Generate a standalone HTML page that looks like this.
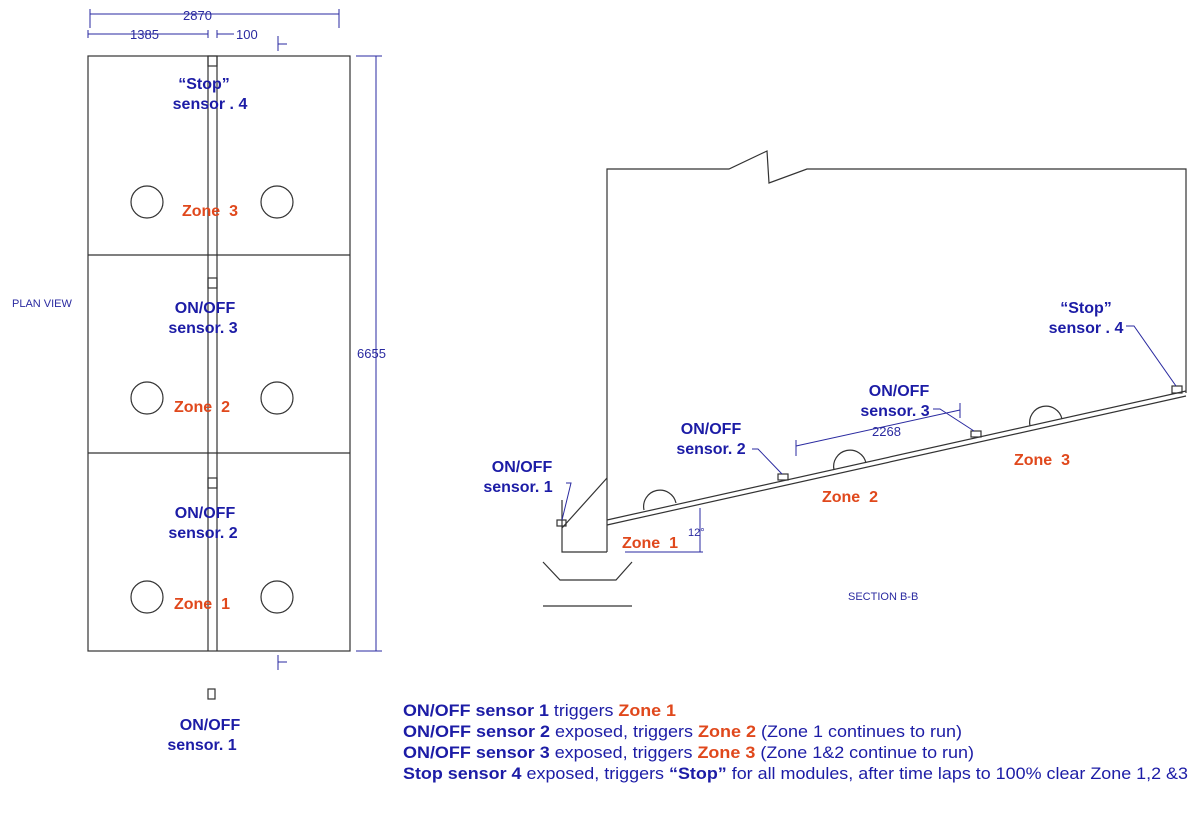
<!DOCTYPE html>
<html><head><meta charset="utf-8"><style>
html,body{margin:0;padding:0;background:#fff;}
svg{display:block;}
text{white-space:pre;}
.b{fill:#1c1ca6;font-family:"Liberation Sans",sans-serif;font-weight:bold;font-size:16px;}
.o{fill:#e0481c;font-family:"Liberation Sans",sans-serif;font-weight:bold;font-size:16px;}
.d{fill:#2a2aa0;font-family:"Liberation Sans",sans-serif;font-size:13px;}
.n{fill:#1c1ca6;font-family:"Liberation Sans",sans-serif;font-size:16.5px;}
.n .b,.n .o{font-size:16.5px;}
</style></head><body>
<svg width="1200" height="813" viewBox="0 0 1200 813">
<g stroke="#333" stroke-width="1.2" fill="none">
<rect x="88" y="56" width="262" height="595"/>
<line x1="88" y1="255" x2="350" y2="255"/>
<line x1="88" y1="453" x2="350" y2="453"/>
<line x1="208" y1="56" x2="208" y2="651"/>
<line x1="217" y1="56" x2="217" y2="651"/>
<circle cx="147" cy="202" r="16"/><circle cx="277" cy="202" r="16"/>
<circle cx="147" cy="398" r="16"/><circle cx="277" cy="398" r="16"/>
<circle cx="147" cy="597" r="16"/><circle cx="277" cy="597" r="16"/>
<rect x="208" y="278" width="9" height="10"/>
<rect x="208" y="478" width="9" height="10"/>
<rect x="208" y="56" width="9" height="10"/>
<rect x="208" y="689" width="7" height="10"/>
<polyline points="607,552 607,169 729,169 767,151 769,183 807,169 1186,169 1186,393"/>
<polyline points="562,500 562,552 607,552"/>
<line x1="562" y1="528" x2="607" y2="478"/>
<polyline points="543,562 560,580 616,580 632,562"/>
<line x1="543" y1="606" x2="632" y2="606"/>
<line x1="607" y1="520" x2="1186" y2="391"/>
<line x1="607" y1="525" x2="1186" y2="396"/>
<path d="M644,510 A16,16 0 0 1 676,503"/>
<path d="M834,470 A16,16 0 0 1 866,463"/>
<path d="M1030,426 A16,16 0 0 1 1062,419"/>
<rect x="778" y="474" width="10" height="6"/>
<rect x="971" y="431" width="10" height="6"/>
<rect x="1172" y="386" width="10" height="7"/>
<rect x="557" y="520" width="9" height="6"/>
</g>
<g stroke="#2a2aa0" stroke-width="1" fill="none">
<line x1="90" y1="14" x2="339" y2="14"/><line x1="90" y1="9" x2="90" y2="28"/><line x1="339" y1="9" x2="339" y2="28"/>
<line x1="88" y1="34" x2="208" y2="34"/><line x1="88" y1="30" x2="88" y2="38"/><line x1="208" y1="30" x2="208" y2="38"/>
<line x1="217" y1="34" x2="234" y2="34"/><line x1="217" y1="30" x2="217" y2="38"/>
<line x1="278" y1="36" x2="278" y2="51"/><line x1="278" y1="44" x2="287" y2="44"/>
<line x1="278" y1="655" x2="278" y2="670"/><line x1="278" y1="662" x2="287" y2="662"/>
<line x1="356" y1="56" x2="382" y2="56"/><line x1="356" y1="651" x2="382" y2="651"/>
<line x1="376" y1="56" x2="376" y2="651"/>
<line x1="796" y1="446" x2="960" y2="410"/><line x1="796" y1="440" x2="796" y2="456"/><line x1="960" y1="403" x2="960" y2="418"/>
<line x1="700" y1="508" x2="700" y2="552"/><line x1="625" y1="552" x2="703" y2="552"/>
<polyline points="566,483 571,483 562,520"/>
<polyline points="752,449 758,449 782,474"/>
<polyline points="933,409 940,409 974,431"/>
<polyline points="1126,326 1134,326 1176,386"/>
</g>
<text class="d" x="183" y="20">2870</text>
<text class="d" x="130" y="39">1385</text>
<text class="d" x="236" y="39">100</text>
<text class="d" x="12" y="307" style="font-size:11px">PLAN VIEW</text>
<text class="d" x="357" y="358">6655</text>
<text class="d" x="848" y="600" style="font-size:11px">SECTION B-B</text>
<text class="d" x="872" y="436">2268</text>
<text class="d" x="688" y="536" style="font-size:11px">12°</text>
<g text-anchor="middle">
<text class="b" x="204" y="89">“Stop”</text><text class="b" x="210" y="109">sensor . 4</text>
<text class="o" x="210" y="216">Zone  3</text>
<text class="b" x="205" y="313">ON/OFF</text><text class="b" x="203" y="333">sensor. 3</text>
<text class="o" x="202" y="412">Zone  2</text>
<text class="b" x="205" y="518">ON/OFF</text><text class="b" x="203" y="538">sensor. 2</text>
<text class="o" x="202" y="609">Zone  1</text>
<text class="b" x="210" y="730">ON/OFF</text><text class="b" x="202" y="750">sensor. 1</text>
<text class="b" x="522" y="472">ON/OFF</text><text class="b" x="518" y="492">sensor. 1</text>
<text class="b" x="711" y="434">ON/OFF</text><text class="b" x="711" y="454">sensor. 2</text>
<text class="b" x="899" y="396">ON/OFF</text><text class="b" x="895" y="416">sensor. 3</text>
<text class="b" x="1086" y="313">“Stop”</text><text class="b" x="1086" y="333">sensor . 4</text>
<text class="o" x="650" y="548">Zone  1</text>
<text class="o" x="850" y="502">Zone  2</text>
<text class="o" x="1042" y="465">Zone  3</text>
</g>
<text class="n" x="403" y="716" textLength="273" lengthAdjust="spacingAndGlyphs"><tspan class="b">ON/OFF sensor 1</tspan> triggers <tspan class="o">Zone 1</tspan></text>
<text class="n" x="403" y="737" textLength="559" lengthAdjust="spacingAndGlyphs"><tspan class="b">ON/OFF sensor 2</tspan> exposed, triggers <tspan class="o">Zone 2</tspan> (Zone 1 continues to run)</text>
<text class="n" x="403" y="758" textLength="571" lengthAdjust="spacingAndGlyphs"><tspan class="b">ON/OFF sensor 3</tspan> exposed, triggers <tspan class="o">Zone 3</tspan> (Zone 1&amp;2 continue to run)</text>
<text class="n" x="403" y="779" textLength="785" lengthAdjust="spacingAndGlyphs"><tspan class="b">Stop sensor 4</tspan> exposed, triggers <tspan class="b">“Stop”</tspan> for all modules, after time laps to 100% clear Zone 1,2 &amp;3</text>
</svg>
</body></html>
